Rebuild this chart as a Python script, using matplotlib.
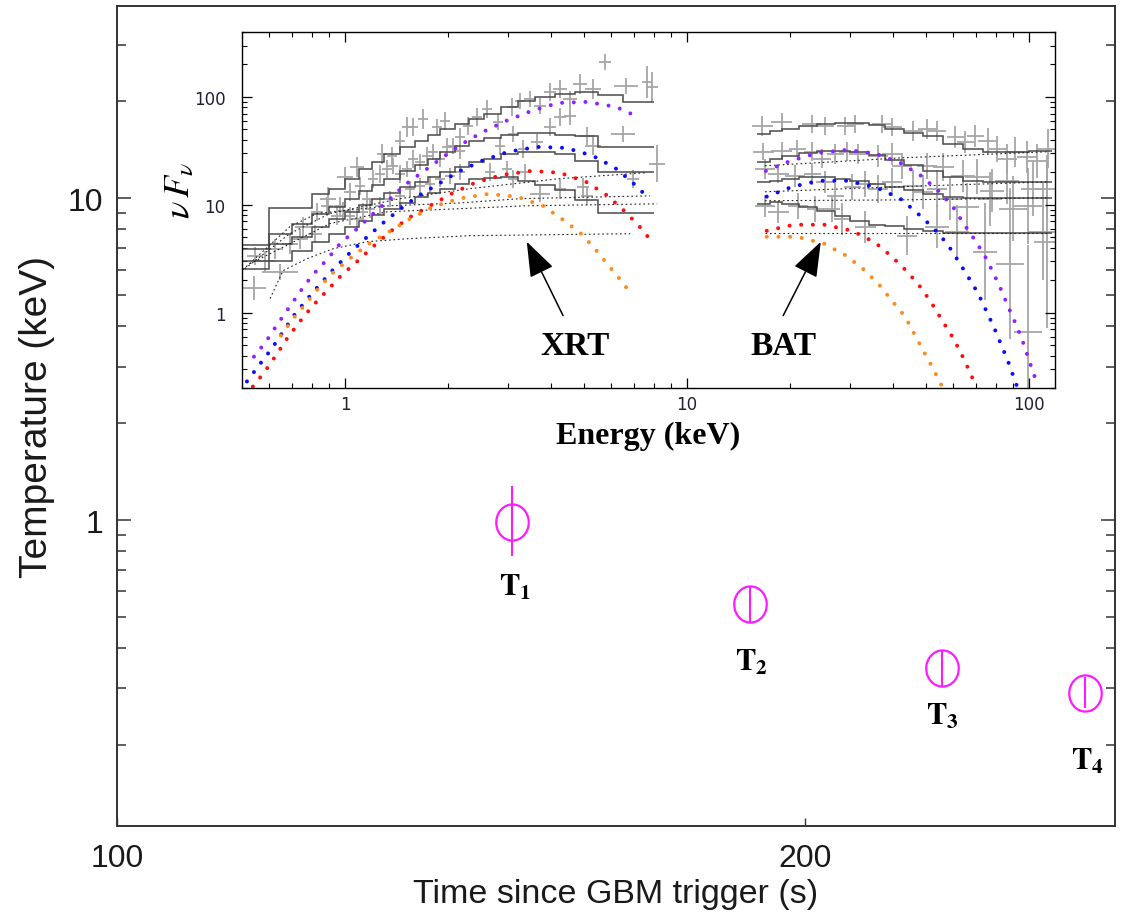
import numpy as np
import matplotlib
matplotlib.use('Agg')
import matplotlib.pyplot as plt
from matplotlib.path import Path
from matplotlib.ticker import NullLocator, NullFormatter
from matplotlib.patches import FancyArrowPatch

plt.rcParams['font.family'] = ['Liberation Sans', 'DejaVu Sans']
plt.rcParams['mathtext.fontset'] = 'stix'

############################################################
# main panel: blackbody temperature vs time
t_obs = [148.8, 189.2, 229.6, 265.2]
kT = [0.988, 0.55, 0.348, 0.291]
kT_lo = [0.775, 0.483, 0.306, 0.26]
kT_hi = [1.278, 0.625, 0.393, 0.326]
t_names = ['1', '2', '3', '4']

############################################################
# inset: XRT + BAT spectra (keV, nuFnu)
xrt_edges = [0.5, 0.6, 0.7, 0.8, 0.9, 1.0, 1.1, 1.2, 1.3, 1.45, 1.6, 1.75, 1.9,
             2.1, 2.3, 2.55, 2.85, 3.2, 3.6, 4.1, 4.7, 5.5, 6.5, 8.0]
xrt_model_1 = [4.2, 9.4, 9.4, 12.6, 14.1, 17.4, 21.5, 25.0, 29.7, 34.4, 39.1, 44.5,
               50.5, 56.2, 62.5, 69.6, 80.8, 91.8, 100, 106.6, 111.3, 104.4, 89.9]
xrt_model_2 = [3.9, 5.4, 6.7, 8.3, 9.6, 11.4, 13.5, 15.3, 17.4, 20.6, 23.5, 26.7,
               31.0, 35.2, 39.1, 41.7, 44.5, 46.4, 46.4, 44.5, 43.5, 34.4, 34.4]
xrt_model_3 = [3.0, 4.35, 5.05, 6.26, 7.42, 8.61, 10.0, 11.4, 12.9, 14.7, 16.3, 18.2,
               20.2, 22.5, 25.0, 26.7, 29.7, 31.0, 31.0, 29.7, 25.6, 20.2, 20.2]
xrt_model_4 = [2.56, 3.03, 3.75, 4.54, 5.39, 6.26, 7.11, 8.08, 9.18, 10.4, 11.9, 12.9,
               14.1, 15.6, 17.4, 17.8, 18.2, 16.7, 15.3, 13.8, 11.1, 8.43, 8.43]

bat_edges = [16, 17.5, 19, 21.3, 24, 27, 30, 34, 38, 43, 49, 56, 64, 73.5, 85.5, 100, 117]
bat_model_1 = [45.5, 48.4, 50.5, 53.9, 56.2, 57.5, 57.5, 55.0, 50.5, 46.4, 43.5, 36.7,
               33.0, 31.0, 31.0, 31.6]
bat_model_2 = [25.0, 26.7, 28.4, 30.3, 31.6, 31.6, 31.0, 29.0, 26.1, 23.5, 20.6, 18.2,
               16.7, 16.3, 16.3, 16.3]
bat_model_3 = [16.3, 16.7, 17.4, 18.2, 18.2, 17.4, 16.7, 15.6, 14.7, 13.8, 12.7, 11.9,
               11.6, 11.6, 11.6, 11.6]
bat_model_4 = [10.2, 10.7, 10.2, 9.58, 8.80, 7.91, 7.11, 6.53, 6.39, 6.0, 5.74, 5.5,
               5.5, 5.5, 5.5, 5.5]

# blackbody components
bb_xrt_purple_E = [0.542, 0.588, 0.633, 0.686, 0.739, 0.801, 0.886, 0.967, 1.077, 1.20, 1.336,
                   1.497, 1.69, 1.92, 2.20, 2.53, 2.96, 3.50, 4.20, 5.10, 6.20, 7.29]
bb_xrt_purple_F = [0.39, 0.54, 0.77, 1.11, 1.56, 2.20, 3.10, 4.35, 5.87, 8.08, 10.9,
                   15.3, 20.2, 27.2, 36.7, 47.4, 60, 74, 88, 90, 80.8, 64]
bb_xrt_blue_E = [0.517, 0.560, 0.608, 0.654, 0.705, 0.769, 0.839, 0.923, 1.02, 1.137, 1.274, 1.429,
                 1.624, 1.858, 2.14, 2.515, 3.00, 3.64, 4.43, 5.31, 6.16, 6.90, 7.64]
bb_xrt_blue_F = [0.23, 0.323, 0.454, 0.64, 0.918, 1.29, 1.78, 2.50, 3.44, 4.74, 6.53, 8.80,
                 11.9, 15.3, 20.2, 25.6, 31.0, 34.4, 33.7, 28.4, 22.0, 16.3, 11.9]
bb_xrt_red_E = [0.538, 0.583, 0.628, 0.677, 0.734, 0.801, 0.880, 0.973, 1.084, 1.207, 1.354, 1.538,
                1.772, 2.07, 2.40, 2.88, 3.50, 4.25, 5.07, 5.80, 6.50, 7.19, 7.85]
bb_xrt_red_F = [0.206, 0.284, 0.40, 0.574, 0.808, 1.137, 1.56, 2.20, 2.97, 4.08, 5.62, 7.58,
                9.79, 12.9, 16.0, 18.9, 20.6, 19.8, 16.3, 12.4, 9.0, 6.53, 4.64]
bb_xrt_orange_E = [0.650, 0.705, 0.769, 0.839, 0.929, 1.041, 1.175, 1.345, 1.549, 1.808, 2.154,
                   2.62, 3.18, 3.79, 4.34, 4.90, 5.38, 5.87, 6.41, 6.68]
bb_xrt_orange_F = [0.612, 0.88, 1.21, 1.70, 2.40, 3.23, 4.35, 5.62, 7.42, 9.58, 11.4,
                   12.6, 11.9, 9.79, 7.26, 5.39, 3.91, 2.78, 1.98, 1.67]

bb_bat_purple_E = [17.0, 20.1, 24.2, 29.4, 35.7, 42.0, 48.3, 54.2, 59.6, 64.1, 69.0, 73.9,
                   78.5, 82.8, 86.8, 91.0, 95.4, 99.3, 103.5, 105.5]
bb_bat_purple_F = [20.6, 25.6, 30.3, 32.3, 29.7, 24.5, 18.6, 13.5, 9.79, 6.81, 4.84, 3.44,
                   2.35, 1.63, 1.14, 0.808, 0.562, 0.383, 0.261, 0.22]
bb_bat_blue_E = [17.1, 20.3, 24.3, 29.6, 35.9, 42.0, 47.0, 52.4, 57.6, 62.0, 66.3, 71.0,
                 74.9, 79.0, 82.8, 86.8, 90.4, 92.2]
bb_bat_blue_F = [11.9, 14.7, 16.7, 16.7, 14.4, 11.4, 8.43, 6.12, 4.35, 3.03, 2.15, 1.50,
                 1.04, 0.726, 0.506, 0.352, 0.245, 0.206]
bb_bat_red_E = [17.1, 20.5, 25.2, 30.4, 35.5, 39.7, 44.0, 48.3, 52.0, 55.7, 59.6, 63.3, 66.8, 70.0]
bb_bat_red_F = [5.74, 6.53, 6.53, 5.74, 4.45, 3.30, 2.40, 1.70, 1.21, 0.843, 0.60, 0.417, 0.29, 0.206]
bb_bat_orange_E = [17.1, 21.0, 25.2, 29.2, 32.9, 36.4, 39.7, 43.4, 46.1, 49.0, 52.0, 55.3]
bb_bat_orange_F = [5.05, 5.05, 4.35, 3.37, 2.50, 1.82, 1.29, 0.918, 0.64, 0.445, 0.316, 0.215]

# power-law components
pl_xrt_1_E = [0.51, 0.69, 0.904, 1.448, 2.32, 4.26, 7.55]
pl_xrt_1_F = [2.56, 5.4, 8.3, 11.4, 14.1, 17.5, 19.8]
pl_xrt_2_E = [0.503, 0.69, 0.828, 1.354, 2.17, 3.25, 7.80]
pl_xrt_2_F = [2.50, 6.26, 8.3, 9.79, 10.4, 11.4, 12.1]
pl_xrt_3_E = [0.527, 0.646, 0.904, 1.327, 2.17, 3.40, 8.18]
pl_xrt_3_F = [2.84, 3.91, 6.7, 8.61, 9.2, 9.79, 10.2]
pl_xrt_4_E = [0.604, 0.659, 0.774, 0.923, 1.160, 1.518, 2.32, 6.82]
pl_xrt_4_F = [1.35, 2.45, 3.16, 3.91, 4.54, 4.84, 5.17, 5.39]
pl_bat_1_E = [16.9, 42.0, 112.9]
pl_bat_1_F = [23.0, 27.2, 31.0]
pl_bat_2_E = [16.9, 41.4, 112.9]
pl_bat_2_F = [13.2, 14.7, 16.3]
pl_bat_3_E = [16.9, 41.4, 112.9]
pl_bat_3_F = [10.9, 11.1, 11.6]
pl_bat_4_E = [16.9, 112.9]
pl_bat_4_F = [5.5, 5.5]

# data points (centre, half-widths in dex)
xrt_E = [0.542, 0.545, 0.646, 0.754, 0.892, 1.0, 1.084, 1.283, 1.372, 1.448, 1.518, 1.580,
         1.691, 1.858, 1.961, 2.170, 2.290, 2.43, 2.60, 2.80, 3.08, 3.25, 3.48, 3.72, 3.98,
         4.26, 4.55, 4.87, 5.32, 5.76, 6.64, 7.65, 7.91,
         0.967, 1.034, 1.106, 1.160, 1.207, 1.266, 1.327, 1.381, 1.448, 1.518, 1.580, 1.657,
         1.738, 1.809, 1.896, 1.987, 2.07, 2.17, 2.84, 3.10, 3.31, 3.65, 3.98, 4.26, 4.55,
         5.10, 5.32, 6.50, 8.18, 6.95,
         0.828, 0.886, 0.948, 0.987, 1.034, 1.084, 1.129, 1.183, 1.266, 1.354, 1.448, 1.549,
         1.657, 1.773, 1.896, 2.028, 2.170, 2.656, 2.978, 3.10, 3.36, 3.72, 4.26, 4.97, 5.10,
         0.583, 0.690, 0.739, 0.817, 0.624]
xrt_F = [1.70, 3.37, 2.40, 6.26, 11.4, 18.2, 22.5, 29.7, 28.4, 39.1, 52.7, 52.7,
         62.6, 52.7, 59.7, 42.6, 53.9, 65.0, 77.4, 58.6, 80.8, 91.8, 95.7, 82.5, 111,
         119, 95.7, 132, 119, 211, 126, 137, 123,
         9.79, 13.2, 15.0, 11.4, 17.5, 19.4, 21.6, 22.9, 19.4, 21.6, 26.7, 25.0,
         28.4, 31.0, 26.7, 34.4, 35.2, 31.6, 35.2, 45.5, 33.1, 38.3, 52.7, 65.0, 66.3,
         43.5, 35.2, 45.5, 24.0, 17.5,
         8.61, 9.79, 7.91, 8.8, 7.91, 7.42, 8.61, 9.2, 9.79, 11.4, 12.1, 14.1,
         15.0, 15.7, 17.5, 18.6, 20.2, 20.2, 21.6, 17.5, 20.2, 12.7, 14.1, 14.7, 12.1,
         3.03, 4.35, 4.8, 5.4, 3.91]
xrt_xdex = [0.035, 0.023, 0.053, 0.023, 0.023, 0.023, 0.02, 0.015, 0.015, 0.015, 0.015, 0.015,
            0.015, 0.015, 0.015, 0.015, 0.015, 0.015, 0.015, 0.015, 0.015, 0.015, 0.018, 0.018, 0.018,
            0.02, 0.02, 0.02, 0.023, 0.018, 0.035, 0.015, 0.018,
            0.018, 0.018, 0.015, 0.015, 0.015, 0.015, 0.015, 0.015, 0.015, 0.015, 0.015, 0.015,
            0.015, 0.015, 0.015, 0.015, 0.015, 0.015, 0.015, 0.015, 0.015, 0.018, 0.018, 0.018, 0.018,
            0.023, 0.023, 0.035, 0.023, 0.018,
            0.018, 0.018, 0.018, 0.015, 0.015, 0.015, 0.015, 0.015, 0.015, 0.015, 0.015, 0.015,
            0.015, 0.015, 0.015, 0.015, 0.015, 0.015, 0.015, 0.015, 0.015, 0.03, 0.018, 0.018, 0.018,
            0.03, 0.023, 0.023, 0.02, 0.023]
xrt_ydex = [0.11, 0.083, 0.074, 0.093, 0.11, 0.093, 0.093, 0.093, 0.083, 0.093, 0.093, 0.083,
            0.093, 0.074, 0.083, 0.083, 0.083, 0.083, 0.083, 0.074, 0.083, 0.074, 0.074, 0.074, 0.083,
            0.083, 0.074, 0.093, 0.093, 0.074, 0.074, 0.15, 0.14,
            0.083, 0.083, 0.083, 0.083, 0.083, 0.083, 0.083, 0.074, 0.083, 0.074, 0.083, 0.074,
            0.083, 0.074, 0.074, 0.083, 0.074, 0.074, 0.083, 0.074, 0.083, 0.074, 0.083, 0.083, 0.083,
            0.083, 0.083, 0.074, 0.17, 0.083,
            0.083, 0.083, 0.083, 0.083, 0.083, 0.083, 0.083, 0.083, 0.083, 0.074, 0.074, 0.074,
            0.074, 0.074, 0.074, 0.074, 0.074, 0.083, 0.074, 0.083, 0.074, 0.074, 0.093, 0.083, 0.083,
            0.093, 0.093, 0.093, 0.083, 0.093]

bat_E = [16.6, 18.9, 23.2, 25.3, 29.0, 31.0, 37.2, 39.7, 45.8, 50.3, 53.8, 60.8, 65.0, 69.5,
         75.9, 80.6, 86.2, 91.0, 98.7, 105.5, 113.6,
         16.7, 18.9, 21.0, 23.2, 24.8, 27.1, 29.4, 31.6, 36.2, 39.7, 42.5, 50.3, 56.1, 64.1,
         70.5, 77.9, 86.2, 102.7, 112.9,
         16.9, 18.5, 20.7, 23.2, 25.3, 27.1, 30.4, 33.2, 36.2, 39.7, 45.8, 49.0, 53.8, 58.7,
         65.9, 76.9, 89.8, 99.3, 109.9,
         16.9, 18.5, 21.1, 23.7, 26.5, 28.4, 33.2, 44.0, 53.8, 61.5, 74.3, 88.0, 99.3, 113.0]
bat_F = [53.9, 58.7, 56.2, 53.9, 53.9, 56.2, 56.2, 52.7, 48.4, 50.5, 48.4, 42.6, 38.3, 43.5,
         39.1, 33.0, 26.7, 31.0, 27.8, 25.6, 33.0,
         31.0, 31.6, 33.0, 31.0, 26.7, 29.7, 31.0, 29.7, 28.4, 29.7, 23.0, 23.0, 22.5, 18.5,
         18.2, 13.5, 16.7, 14.1, 14.1,
         21.5, 19.4, 18.5, 19.4, 16.3, 12.1, 14.7, 15.6, 14.1, 16.3, 15.0, 13.2, 14.1, 11.4,
         9.58, 11.4, 9.18, 9.79, 5.62,
         9.79, 8.61, 9.79, 9.18, 9.18, 7.42, 6.26, 5.17, 6.26, 5.62, 3.67, 2.84, 0.667, 4.54]
bat_xdex = [0.03, 0.03, 0.03, 0.025, 0.025, 0.025, 0.03, 0.03, 0.03, 0.025, 0.025, 0.025, 0.025, 0.025,
            0.03, 0.025, 0.03, 0.03, 0.03, 0.03, 0.035,
            0.03, 0.03, 0.025, 0.025, 0.025, 0.025, 0.025, 0.025, 0.03, 0.03, 0.03, 0.03, 0.03, 0.035,
            0.035, 0.035, 0.035, 0.035, 0.035,
            0.03, 0.03, 0.03, 0.025, 0.025, 0.025, 0.025, 0.03, 0.03, 0.03, 0.03, 0.03, 0.03, 0.035,
            0.035, 0.035, 0.04, 0.04, 0.04,
            0.03, 0.03, 0.03, 0.025, 0.025, 0.025, 0.03, 0.03, 0.035, 0.035, 0.035, 0.04, 0.04, 0.04]
bat_ydex = [0.09, 0.08, 0.08, 0.08, 0.08, 0.08, 0.08, 0.08, 0.09, 0.09, 0.09, 0.1, 0.1, 0.1,
            0.12, 0.12, 0.14, 0.14, 0.15, 0.16, 0.18,
            0.08, 0.08, 0.08, 0.09, 0.09, 0.09, 0.09, 0.09, 0.1, 0.1, 0.12, 0.12, 0.13, 0.15,
            0.16, 0.2, 0.22, 0.25, 0.28,
            0.09, 0.09, 0.1, 0.1, 0.1, 0.12, 0.12, 0.12, 0.13, 0.13, 0.15, 0.16, 0.17, 0.2,
            0.22, 0.25, 0.3, 0.35, 0.45,
            0.1, 0.1, 0.12, 0.12, 0.12, 0.15, 0.15, 0.18, 0.2, 0.25, 0.45, 0.7, 0.8, 0.8]


def dex_err(v, d):
    v = np.asarray(v, dtype=float)
    d = np.asarray(d, dtype=float)
    return [v - v / 10**d, v * 10**d - v]


############################################################
fig = plt.figure(figsize=(11.35, 9.2), dpi=100)
ax = fig.add_axes([0.1031, 0.1011, 0.8793, 0.8913])
ax.set_xscale('log')
ax.set_yscale('log')
ax.set_xlim(100, 273.3)
ax.set_ylim(0.112, 39.6)

dark = '#333333'
for s in ax.spines.values():
    s.set_linewidth(1.4)
    s.set_color(dark)

ax.set_xticks([100, 200])
ax.set_xticklabels(['100', '200'])
ax.xaxis.set_minor_locator(NullLocator())
ax.set_yticks([1, 10])
ax.set_yticklabels(['1', '10'])
ax.yaxis.set_minor_formatter(NullFormatter())
ax.tick_params(axis='x', which='major', direction='in', length=6, width=1.0,
               color=dark, labelsize=23, pad=12, labelcolor='#1a1a1a')
ax.tick_params(axis='y', which='major', direction='in', length=10, width=1.1,
               color=dark, labelsize=23, pad=10, right=True, labelcolor='#1a1a1a')
ax.tick_params(axis='y', which='minor', direction='in', length=6.5, width=1.1,
               color=dark, right=True)
ax.set_xlabel('Time since GBM trigger (s)', fontsize=24.5, color='#1a1a1a', labelpad=4)
ax.set_ylabel('Temperature (keV)', fontsize=28, color='#1a1a1a', labelpad=9)

# ellipse marker
th = np.linspace(0, 2 * np.pi, 80)
ell = Path(np.column_stack([0.9 * np.cos(th), np.sin(th)]))

kT_arr = np.asarray(kT)
ax.errorbar(t_obs, kT, yerr=[kT_arr - np.asarray(kT_lo), np.asarray(kT_hi) - kT_arr],
            fmt='none', ecolor='#ff1aff', elinewidth=1.5, capsize=0, zorder=3)
ax.plot(t_obs, kT, ls='none', marker=ell, ms=26, mfc='none', mec='#ff1aff', mew=1.6, zorder=4)

offsets = [(4, -65), (2, -58), (0, -48), (2, -68)]
for x, y, n, off in zip(t_obs, kT, t_names, offsets):
    ax.annotate(r'$\mathbf{T}_{\mathbf{%s}}$' % n, (x, y), xytext=off, textcoords='offset pixels',
                ha='center', va='center', fontsize=22, color='black')

############################################################
# inset
ax2 = fig.add_axes([0.2132, 0.5772, 0.7163, 0.3869])
ax2.set_xscale('log')
ax2.set_yscale('log')
ax2.set_xlim(0.5, 119)
ax2.set_ylim(0.2, 400)
for s in ax2.spines.values():
    s.set_linewidth(1.0)
    s.set_color('black')

ax2.set_xticks([1, 10, 100])
ax2.set_xticklabels(['1', '10', '100'])
ax2.set_yticks([1, 10, 100])
ax2.set_yticklabels(['1', '10', '100'])
ax2.xaxis.set_minor_formatter(NullFormatter())
ax2.yaxis.set_minor_formatter(NullFormatter())
ax2.tick_params(which='both', direction='in', top=True, right=True, color='black')
ax2.tick_params(which='major', length=7, width=0.9)
ax2.tick_params(which='minor', length=3.6, width=0.8)
for lab in ax2.get_xticklabels() + ax2.get_yticklabels():
    lab.set_family('DejaVu Sans')
    lab.set_fontsize(12)
    lab.set_color('#202034')
ax2.tick_params(axis='x', pad=5)
ax2.tick_params(axis='y', pad=12)
ax2.set_xlabel('Energy (keV)', fontsize=23, fontweight='bold', family='Liberation Serif',
               labelpad=6)

# data crosses
gray = '#a6a6a6'
ax2.errorbar(xrt_E, xrt_F, xerr=dex_err(xrt_E, xrt_xdex), yerr=dex_err(xrt_F, xrt_ydex),
             fmt='none', ecolor=gray, elinewidth=1.3, capsize=0, zorder=1)
ax2.errorbar(bat_E, bat_F, xerr=dex_err(bat_E, bat_xdex), yerr=dex_err(bat_F, bat_ydex),
             fmt='none', ecolor=gray, elinewidth=1.3, capsize=0, zorder=1)

# models
step_c = '#4a4a4a'
for vals in [xrt_model_1, xrt_model_2, xrt_model_3, xrt_model_4]:
    ax2.stairs(vals, xrt_edges, baseline=None, color=step_c, lw=1.1, zorder=2)
for vals in [bat_model_1, bat_model_2, bat_model_3, bat_model_4]:
    ax2.stairs(vals, bat_edges, baseline=None, color=step_c, lw=1.1, zorder=2)

pl_sets = [(pl_xrt_1_E, pl_xrt_1_F), (pl_xrt_2_E, pl_xrt_2_F), (pl_xrt_3_E, pl_xrt_3_F),
           (pl_xrt_4_E, pl_xrt_4_F), (pl_bat_1_E, pl_bat_1_F), (pl_bat_2_E, pl_bat_2_F),
           (pl_bat_3_E, pl_bat_3_F), (pl_bat_4_E, pl_bat_4_F)]
for e, f in pl_sets:
    ax2.plot(e, f, color='#222222', lw=0.8, ls=(0, (1.5, 2.5)), zorder=2)

dots = (0, (0.001, 2.9))
bb_sets = [
    (bb_xrt_purple_E, bb_xrt_purple_F, '#8f22ff'),
    (bb_xrt_blue_E, bb_xrt_blue_F, '#0b0bff'),
    (bb_xrt_red_E, bb_xrt_red_F, '#ff0d0d'),
    (bb_xrt_orange_E, bb_xrt_orange_F, '#ff8a1c'),
    (bb_bat_purple_E, bb_bat_purple_F, '#8f22ff'),
    (bb_bat_blue_E, bb_bat_blue_F, '#0b0bff'),
    (bb_bat_red_E, bb_bat_red_F, '#ff0d0d'),
    (bb_bat_orange_E, bb_bat_orange_F, '#ff8a1c'),
]
for e, f, c in bb_sets:
    ax2.plot(e, f, color=c, lw=2.9, ls=dots, dash_capstyle='round', zorder=3)

# arrows and instrument labels
for tail, tip in [((4.34, 0.938), (3.40, 4.54)), ((19.1, 0.938), (24.6, 4.54))]:
    ax2.add_patch(FancyArrowPatch(tail, tip, arrowstyle='-|>,head_length=2.2,head_width=0.8',
                                  mutation_scale=10, lw=1.1, color='black',
                                  shrinkA=0, shrinkB=0, zorder=4))
ax2.text(4.70, 0.495, 'XRT', ha='center', va='center', fontsize=24, fontweight='bold',
         family='Liberation Serif')
ax2.text(19.2, 0.495, 'BAT', ha='center', va='center', fontsize=24, fontweight='bold',
         family='Liberation Serif')

fig.text(180 / 1135, 1 - 191 / 920, r'$\nu\,F_{\nu}$', rotation=90, ha='center', va='center',
         fontsize=26, color='black')

fig.savefig('out.png', dpi=100)
